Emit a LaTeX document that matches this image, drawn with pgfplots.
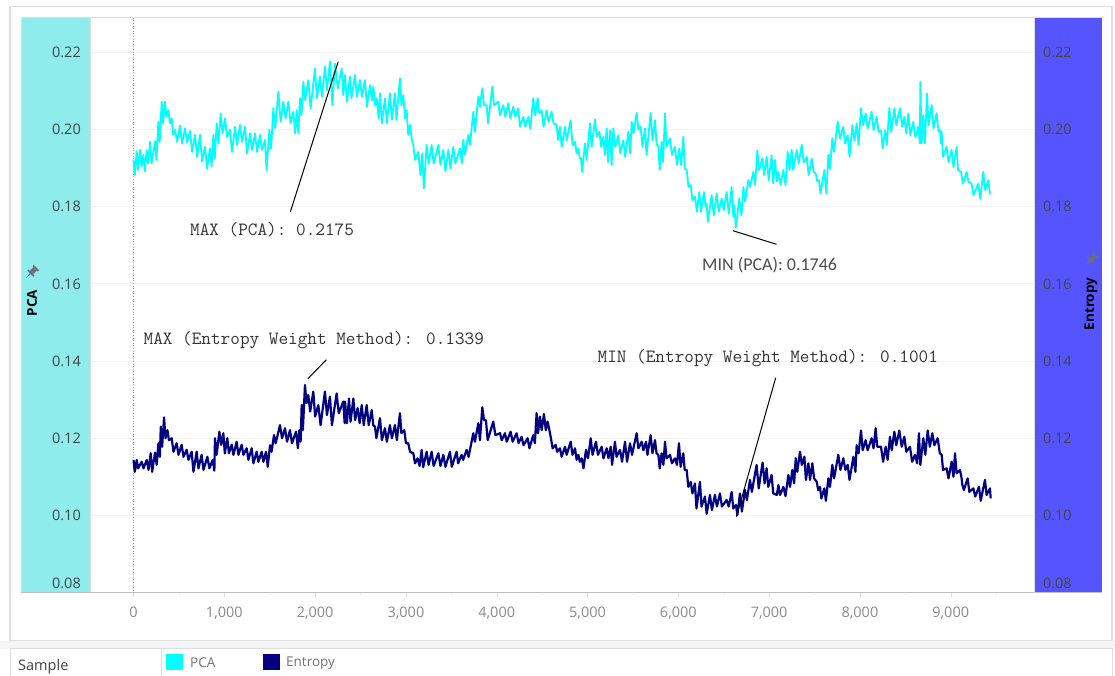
\documentclass[border=0pt]{standalone}
\usepackage{fontspec}
\usepackage{pgfplots}
\pgfplotsset{compat=1.18}
\setmainfont{Open Sans}
\newfontfamily\annofont{Carlito}
\newfontfamily\serifanno{Latin Modern Mono}
\definecolor{pcaline}{HTML}{00FFFF}
\definecolor{entline}{HTML}{000080}
\definecolor{pcapanel}{HTML}{8EECEC}
\definecolor{entpanel}{HTML}{5555FF}
\definecolor{frameg}{HTML}{DEDEDE}
\definecolor{gridg}{HTML}{F3F3F3}
\definecolor{tickg}{HTML}{8A8A8A}
\definecolor{darktick}{HTML}{444444}
\definecolor{ping}{HTML}{6E6E78}
\pgfplotsset{
  sidelabels/.style={
    at={(21.4pt,83pt)},anchor=south west,
    scale only axis,width=1080.6pt,height=575pt,
    xmin=-1235,xmax=10666,ymin=0.0799,ymax=0.2289,
    axis line style={draw=none},
    axis x line=none,
    y tick style={draw=none},
    ytick={0.10,0.12,...,0.221},
    extra y ticks={0.0825},
    extra y tick labels={0.08},
    scaled y ticks=false,
  },
  sidefont/.style={font=\fontsize{14.5}{16}\selectfont,text=darktick,inner sep=0pt,/pgf/number format/assume math mode=true,/pgf/number format/fixed,/pgf/number format/fixed zerofill,/pgf/number format/precision=2},
}
\begin{document}
\begin{tikzpicture}[x=1pt,y=1pt]
\path[use as bounding box] (0,0) rectangle (1115,676);
% card frames
\fill[black!4] (0,27) rectangle (1115,35.3);
\draw[frameg,line width=1.2pt] (10,35.3) rectangle (1112,669.5);
\draw[frameg,line width=1pt] (10,0) -- (10,27) -- (1112,27) -- (1112,0);
\draw[frameg,line width=.8pt] (161,0) -- (161,27);
\begin{axis}[
  at={(21.4pt,83pt)},anchor=south west,
  scale only axis,width=1080.6pt,height=575pt,
  xmin=-1235,xmax=10666,ymin=0.0799,ymax=0.2289,
  axis line style={draw=none},
  xtick={0,1000,...,9000},
  minor xtick={500,1500,...,9500},
  xtick pos=bottom,
  tick align=outside,
  major tick length=4pt,minor tick length=2pt,
  x tick style={frameg},
  minor x tick style={gridg!70!frameg},
  y tick style={draw=none},
  ytick={0.10,0.12,...,0.221},
  yticklabels={},
  ymajorgrids,
  grid style={gridg,line width=1pt},
  scaled x ticks=false,
  scaled y ticks=false,
  xticklabel style={font=\fontsize{14.5}{16}\selectfont,text=tickg,/pgf/number format/assume math mode=true,/pgf/number format/fixed,/pgf/number format/1000 sep={,},yshift=-6pt},
]
\fill[pcapanel] (axis cs:-1235,0.0799) rectangle (axis cs:-475,0.2289);
\fill[entpanel] (axis cs:9924,0.0799) rectangle (axis cs:10666,0.2289);
\draw[frameg,line width=1pt] (axis cs:-475,0.0799) -- (axis cs:-475,0.2289);
\draw[black!40,dotted,line width=.6pt] (axis cs:0,0.0799) -- (axis cs:0,0.2289);
\addplot[pcaline,line width=1.8pt,line join=round] coordinates {
(0,.1921)(14,.1882)(35,.1944)(50,.1895)(72,.1947)(88,.1904)(108,.1934)(124,.1891)(145,.1947)(160,.1912)(182,.1968)(198,.1912)(237,.1970)(252,.1921)(274,.2020)(288,.1968)(310,.2072)(325,.2016)(347,.2072)(362,.2033)(384,.2050)(400,.2016)(420,.2029)(436,.1986)(457,.1999)(480,.1968)(512,.2010)(535,.1964)(567,.2003)(590,.1967)(622,.1996)(645,.1942)(677,.1986)(700,.1929)(732,.1986)(755,.1917)(787,.1955)(810,.1899)(842,.1951)(860,.1904)(879,.1986)(895,.1925)(916,.2016)(935,.1964)(960,.2042)(980,.1990)(1007,.2029)(1030,.1981)(1062,.1999)(1085,.1942)(1118,.2007)(1140,.1960)(1173,.2012)(1195,.1968)(1228,.2007)(1250,.1938)(1283,.1990)(1305,.1947)(1338,.1990)(1360,.1942)(1393,.1986)(1415,.1947)(1448,.1973)(1465,.1895)(1496,.1999)(1515,.1951)(1540,.2055)(1560,.2003)(1595,.2098)(1620,.2020)(1650,.2072)(1675,.2029)(1705,.2072)(1730,.2016)(1760,.2046)(1780,.1990)(1797,.2050)(1815,.1990)(1833,.2081)(1850,.2037)(1870,.2124)(1890,.2076)(1925,.2128)(1950,.2055)(1998,.2158)(2020,.2081)(2053,.2137)(2075,.2085)(2108,.2163)(2130,.2102)(2163,.2176)(2190,.2063)(2218,.2171)(2250,.2107)(2292,.2158)(2310,.2089)
(2329,.2141)(2350,.2072)(2384,.2137)(2400,.2081)(2439,.2141)(2460,.2085)(2494,.2128)(2515,.2085)(2549,.2128)(2570,.2059)(2604,.2115)(2625,.2076)(2641,.2111)(2660,.2063)(2678,.2081)(2700,.2029)(2714,.2094)(2735,.2016)(2769,.2081)(2790,.2016)(2824,.2094)(2845,.2025)(2879,.2094)(2895,.2025)(2934,.2133)(2950,.2063)(2971,.2089)(2990,.2029)(3008,.2050)(3025,.1986)(3045,.2012)(3065,.1973)(3081,.1960)(3100,.1921)(3136,.1942)(3160,.1882)(3180,.1938)(3197,.1847)(3228,.1960)(3250,.1912)(3283,.1960)(3305,.1912)(3357,.1960)(3380,.1908)(3412,.1947)(3435,.1892)(3467,.1947)(3490,.1899)(3522,.1955)(3545,.1912)(3595,.1951)(3615,.1912)(3632,.1973)(3650,.1934)(3687,.1986)(3705,.1960)(3742,.2046)(3760,.1994)(3797,.2085)(3815,.2059)(3841,.2107)(3860,.2063)(3889,.2063)(3905,.2016)(3951,.2111)(3970,.2063)(4017,.2072)(4035,.2037)(4072,.2063)(4095,.2033)(4127,.2068)(4150,.2029)(4182,.2059)(4205,.2033)(4237,.2055)(4255,.2007)(4293,.2033)(4315,.2007)(4348,.2033)(4370,.2003)(4402,.2081)(4425,.2037)(4450,.2081)(4470,.2042)(4494,.2050)(4515,.2007)(4549,.2050)(4570,.2020)(4604,.2046)(4625,.2016)(4659,.2012)(4675,.1973)
(4697,.2007)(4715,.1955)(4752,.2007)(4770,.1972)(4814,.2024)(4835,.1959)(4862,.1968)(4880,.1938)(4899,.1951)(4915,.1925)(4928,.1925)(4940,.1890)(4972,.1964)(4990,.1921)(5027,.2016)(5045,.1955)(5082,.2026)(5100,.1981)(5130,.1994)(5150,.1955)(5174,.1981)(5190,.1934)(5211,.2003)(5225,.1916)(5248,.1998)(5265,.1908)(5284,.2003)(5305,.1955)(5339,.1985)(5360,.1938)(5394,.1972)(5415,.1929)(5449,.1994)(5470,.1938)(5486,.2020)(5505,.1990)(5541,.2043)(5560,.2000)(5585,.2007)(5605,.1955)(5633,.2003)(5650,.1934)(5695,.2043)(5715,.1972)(5743,.2024)(5760,.1964)(5780,.1955)(5795,.1895)(5816,.1968)(5832,.1916)(5853,.2042)(5870,.1955)(5908,.1977)(5930,.1934)(5963,.1955)(5985,.1908)(6011,.1951)(6030,.1908)(6055,.1981)(6070,.1899)(6092,.1895)(6112,.1851)(6136,.1856)(6155,.1817)(6183,.1826)(6205,.1787)(6231,.1838)(6250,.1787)(6282,.1838)(6300,.1800)(6312,.1808)(6325,.1761)(6367,.1830)(6390,.1778)(6422,.1834)(6445,.1787)(6477,.1821)(6500,.1791)(6532,.1838)(6555,.1782)(6587,.1851)(6605,.1774)(6616,.1804)(6633,.1746)(6671,.1821)(6695,.1778)(6716,.1851)(6735,.1813)(6771,.1869)(6790,.1851)(6825,.1890)(6845,.1856)(6870,.1946)(6890,.1895)(6925,.1925)(6945,.1882)(6973,.1929)(6995,.1869)(7027,.1933)(7045,.1860)
(7065,.1921)(7085,.1865)(7102,.1890)(7125,.1856)(7157,.1895)(7180,.1856)(7204,.1942)(7225,.1895)(7248,.1947)(7265,.1895)(7304,.1947)(7325,.1912)(7359,.1961)(7380,.1915)(7414,.1929)(7435,.1882)(7469,.1925)(7490,.1890)(7513,.1886)(7530,.1865)(7549,.1869)(7565,.1834)(7608,.1895)(7630,.1834)(7652,.1934)(7670,.1899)(7696,.1977)(7715,.1942)(7755,.2020)(7780,.1977)(7817,.2007)(7835,.1964)(7865,.1985)(7885,.1929)(7916,.2011)(7940,.1972)(7964,.2016)(7985,.1960)(8012,.2055)(8035,.2011)(8063,.2042)(8085,.2003)(8129,.2046)(8150,.1998)(8184,.2033)(8205,.1994)(8232,.1998)(8250,.1951)(8276,.1998)(8295,.1960)(8324,.2055)(8345,.1994)(8379,.2055)(8400,.2011)(8441,.2055)(8465,.2007)(8489,.2033)(8510,.1990)(8533,.2042)(8555,.1985)(8588,.2020)(8610,.1981)(8643,.2007)(8660,.1964)(8665,.2124)(8680,.1964)(8698,.2037)(8715,.1964)(8739,.2093)(8755,.2011)(8790,.2063)(8810,.2003)(8845,.2042)(8865,.1994)(8882,.1998)(8893,.1964)(8900,.1994)(8915,.1929)(8955,.1955)(8975,.1916)(9010,.1947)(9030,.1903)(9065,.1955)(9080,.1895)(9113,.1890)(9135,.1860)(9175,.1890)(9195,.1865)(9230,.1860)(9250,.1830)(9304,.1860)(9325,.1820)(9359,.1890)(9380,.1843)(9414,.1869)(9432,.1832)
};
\addplot[entline,line width=2.2pt,line join=round] coordinates {
(0,.1144)(14,.1113)(35,.1144)(50,.1122)(90,.1139)(110,.1122)(145,.1144)(165,.1118)(189,.1161)(205,.1113)(237,.1163)(255,.1131)(274,.1187)(290,.1152)(300,.1230)(315,.1178)(336,.1254)(352,.1200)(373,.1221)(390,.1195)(420,.1200)(440,.1165)(475,.1187)(495,.1157)(530,.1183)(550,.1152)(585,.1170)(605,.1144)(640,.1165)(660,.1113)(695,.1165)(715,.1122)(750,.1157)(770,.1118)(813,.1152)(835,.1122)(872,.1144)(890,.1116)(897,.1200)(915,.1157)(945,.1217)(965,.1183)(989,.1213)(1005,.1161)(1033,.1200)(1050,.1161)(1081,.1183)(1100,.1157)(1136,.1191)(1155,.1157)(1191,.1183)(1210,.1157)(1246,.1174)(1265,.1144)(1301,.1174)(1320,.1135)(1356,.1165)(1375,.1139)(1411,.1165)(1430,.1139)(1459,.1165)(1478,.1126)(1503,.1182)(1520,.1165)(1547,.1208)(1565,.1187)(1613,.1234)(1635,.1200)(1668,.1226)(1690,.1191)(1723,.1221)(1745,.1187)(1789,.1217)(1810,.1174)(1826,.1221)(1840,.1191)(1852,.1286)(1865,.1221)(1888,.1338)(1905,.1291)(1925,.1312)(1945,.1269)(1980,.1321)(2000,.1256)(2035,.1286)(2060,.1234)(2108,.1321)(2130,.1260)(2163,.1308)(2185,.1234)(2237,.1316)(2260,.1265)(2310,.1295)(2325,.1239)
(2329,.1295)(2350,.1239)(2373,.1303)(2390,.1243)(2421,.1303)(2440,.1247)(2468,.1278)(2490,.1239)(2513,.1286)(2535,.1234)(2568,.1286)(2590,.1234)(2623,.1273)(2640,.1234)(2659,.1230)(2675,.1200)(2714,.1252)(2735,.1195)(2769,.1226)(2790,.1191)(2824,.1234)(2845,.1200)(2879,.1234)(2900,.1195)(2934,.1265)(2950,.1213)(2982,.1221)(3000,.1187)(3026,.1187)(3045,.1165)(3081,.1161)(3100,.1135)(3129,.1148)(3150,.1128)(3173,.1170)(3190,.1125)(3228,.1165)(3250,.1131)(3283,.1165)(3305,.1128)(3357,.1161)(3380,.1128)(3412,.1157)(3435,.1126)(3485,.1165)(3505,.1126)(3558,.1165)(3575,.1135)(3613,.1157)(3630,.1144)(3668,.1170)(3690,.1152)(3742,.1213)(3760,.1191)(3797,.1239)(3815,.1195)(3841,.1280)(3860,.1247)(3881,.1247)(3900,.1195)(3962,.1243)(3985,.1208)(4036,.1213)(4055,.1195)(4091,.1213)(4110,.1191)(4153,.1217)(4175,.1191)(4219,.1213)(4240,.1187)(4274,.1204)(4295,.1182)(4340,.1200)(4360,.1174)(4402,.1208)(4420,.1187)(4439,.1265)(4455,.1213)(4476,.1256)(4495,.1221)(4520,.1263)(4540,.1221)(4560,.1243)(4580,.1221)(4597,.1200)(4615,.1174)(4649,.1183)(4665,.1165)(4696,.1174)
(4715,.1152)(4752,.1178)(4770,.1157)(4814,.1191)(4835,.1157)(4862,.1174)(4880,.1144)(4899,.1157)(4915,.1139)(4936,.1148)(4955,.1122)(4983,.1170)(5005,.1148)(5035,.1200)(5055,.1157)(5093,.1191)(5115,.1157)(5156,.1178)(5175,.1148)(5211,.1174)(5230,.1148)(5255,.1178)(5270,.1131)(5302,.1191)(5320,.1152)(5358,.1170)(5380,.1139)(5413,.1191)(5435,.1139)(5468,.1187)(5490,.1157)(5541,.1213)(5560,.1174)(5596,.1191)(5615,.1169)(5644,.1191)(5660,.1157)(5695,.1208)(5715,.1161)(5743,.1195)(5760,.1161)(5780,.1157)(5795,.1122)(5816,.1161)(5835,.1131)(5853,.1191)(5870,.1148)(5908,.1157)(5930,.1135)(5963,.1148)(5985,.1131)(6007,.1187)(6025,.1126)(6055,.1161)(6070,.1118)(6092,.1118)(6110,.1074)(6136,.1087)(6155,.1057)(6183,.1083)(6200,.1018)(6238,.1087)(6255,.1023)(6293,.1049)(6312,.1004)(6348,.1053)(6370,.1014)(6403,.1053)(6425,.1023)(6458,.1057)(6480,.1023)(6532,.1040)(6555,.1023)(6587,.1061)(6605,.1018)(6635,.1027)(6650,.1001)(6679,.1057)(6700,.1010)(6734,.1066)(6755,.1040)(6789,.1092)(6810,.1061)(6862,.1131)(6885,.1070)(6928,.1137)(6950,.1083)(6972,.1122)(6990,.1074)(7027,.1105)(7045,.1057)
(7085,.1053)(7102,.1079)(7120,.1053)(7157,.1074)(7180,.1050)(7212,.1105)(7230,.1074)(7256,.1118)(7275,.1083)(7293,.1148)(7310,.1113)(7340,.1165)(7360,.1131)(7388,.1152)(7405,.1092)(7432,.1135)(7450,.1092)(7476,.1135)(7495,.1096)(7524,.1087)(7540,.1066)(7560,.1074)(7575,.1044)(7608,.1070)(7625,.1038)(7652,.1096)(7670,.1074)(7696,.1131)(7715,.1096)(7762,.1157)(7785,.1118)(7817,.1148)(7840,.1118)(7865,.1131)(7885,.1092)(7928,.1152)(7950,.1113)(7964,.1182)(7985,.1161)(8012,.1220)(8030,.1169)(8063,.1195)(8085,.1169)(8129,.1200)(8150,.1174)(8173,.1226)(8190,.1178)(8232,.1178)(8255,.1139)(8283,.1178)(8305,.1144)(8331,.1204)(8350,.1169)(8379,.1217)(8400,.1182)(8434,.1220)(8460,.1178)(8489,.1204)(8510,.1165)(8551,.1178)(8575,.1139)(8607,.1157)(8630,.1135)(8650,.1213)(8665,.1131)(8698,.1200)(8720,.1157)(8746,.1220)(8770,.1178)(8797,.1213)(8820,.1182)(8856,.1200)(8880,.1161)(8900,.1157)(8915,.1118)(8955,.1122)(8975,.1096)(9010,.1139)(9030,.1100)(9047,.1161)(9065,.1109)(9102,.1118)(9120,.1096)(9128,.1079)(9145,.1066)(9186,.1096)(9205,.1061)(9249,.1070)(9270,.1049)(9311,.1074)(9330,.1038)(9377,.1092)(9395,.1053)(9432,.1070)(9440,.1044)
};
\end{axis}
% tick labels of the two panels, over the fills
\begin{axis}[sidelabels,axis y line*=left,
  yticklabel style={sidefont,anchor=east,xshift=59.6pt}]
\addplot[draw=none] coordinates {(0,0.10)};
\end{axis}
\begin{axis}[sidelabels,axis y line*=right,
  yticklabel style={sidefont,anchor=west,xshift=-59.2pt}]
\addplot[draw=none] coordinates {(0,0.10)};
\end{axis}
% plot frame
\draw[frameg,line width=1pt] (21.4,658) -- (1102,658);
\draw[black!25,line width=1pt] (21.4,83) -- (1102,83);
\draw[frameg,line width=.8pt] (1034.6,83) -- (1034.6,658);
% panel titles and pins
\node[rotate=90,font=\fontsize{13.5}{15}\selectfont\bfseries,text=black] at (32,373) {PCA};
\node[rotate=90,font=\fontsize{13.5}{15}\selectfont\bfseries,text=black] at (1091,372) {Entropy};
\foreach \px/\py in {31/403,1090.5/416} {
  \begin{scope}[shift={(\px,\py)},rotate=-45]
    \fill[ping] (-2.4,0) rectangle (2.4,6);
    \fill[ping] (-3.8,6) rectangle (3.8,7.6);
    \fill[ping] (-4.4,-1) rectangle (4.4,.6);
    \fill[ping] (-.7,-1) -- (0,-7) -- (.7,-1) -- cycle;
  \end{scope}
}
% annotations
\draw[black,line width=1pt] (338.2,614.3) -- (290.4,464.3);
\draw[black,line width=1pt] (732.9,445.3) -- (776.4,431.7);
\draw[black,line width=1pt] (307.9,297.3) -- (326.4,316.3);
\draw[black,line width=1pt] (775.7,298.3) -- (736.4,159.3);
\node[anchor=west,inner sep=0pt,text=black!80,font=\serifanno\fontsize{18.7}{20}\selectfont] at (190,446) {MAX (PCA): 0.2175};
\node[anchor=west,inner sep=0pt,text=black!70,font=\annofont\fontsize{18}{20}\selectfont] at (702,411) {MIN (PCA): 0.1746};
\node[anchor=west,inner sep=0pt,text=black!80,font=\serifanno\fontsize{18.7}{20}\selectfont] at (143.5,336) {MAX (Entropy Weight Method): 0.1339};
\node[anchor=west,inner sep=0pt,text=black!80,font=\serifanno\fontsize{18.7}{20}\selectfont] at (597.5,318) {MIN (Entropy Weight Method): 0.1001};
% legend strip
\fill[pcaline] (166,6) rectangle (183,22);
\fill[entline] (263,6) rectangle (280,22);
\node[anchor=west,inner sep=0pt,text=black!55,font=\fontsize{13.5}{15}\selectfont] at (190,13) {PCA};
\node[anchor=west,inner sep=0pt,text=black!55,font=\fontsize{13.5}{15}\selectfont] at (286,13) {Entropy};
\node[anchor=west,inner sep=0pt,text=black!75,font=\fontsize{14.5}{16}\selectfont] at (18,9.5) {Sample};
\end{tikzpicture}
\end{document}
